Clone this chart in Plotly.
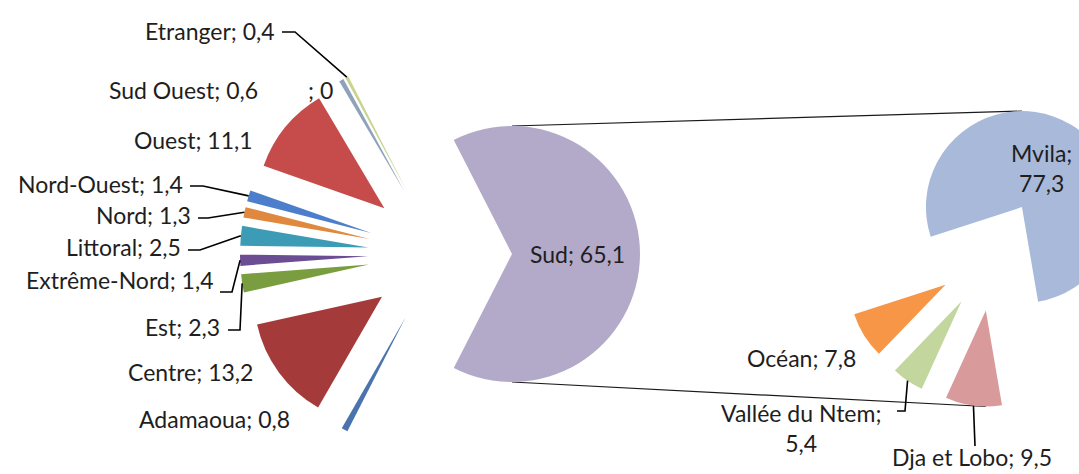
import math
import plotly.graph_objects as go

# Répartition par région d'origine (camembert principal)
regions = ["Sud", "Adamaoua", "Centre", "Est", "Extrême-Nord", "Littoral",
           "Nord", "Nord-Ouest", "Ouest", "", "Sud Ouest", "Etranger"]
region_values = [65.1, 0.8, 13.2, 2.3, 1.4, 2.5, 1.3, 1.4, 11.1, 0, 0.6, 0.4]
region_colors = ["#B3A9C9", "#4A74AE", "#A53A3B", "#7A9E3F", "#6A4D93", "#3C9CB6",
                 "#E0893E", "#4D7ECB", "#C64C4B", "#FFFFFF", "#8EA2BC", "#C8D48E"]

# Détail du Sud par département (camembert secondaire)
departements = ["Mvila", "Dja et Lobo", "Vallée du Ntem", "Océan"]
dept_values = [77.3, 9.5, 5.4, 7.8]
dept_colors = ["#A8B9DA", "#D99A9C", "#C3D69E", "#F79646"]

W, H = 1145, 474
FONT = "Lato"
FSIZE = 23
INK = "#1E1E1E"

# pie placement in pixels: centre, radius, explosion
MAIN = dict(cx=440.0, cy=254.0, r=128.0, pull=0.5625)
SUB = dict(cx=993.0, cy=255.0, r=96.0, pull=0.583)


def domain_of(p):
    half = p["r"] * (1 + p["pull"])
    return dict(x=[max(0.0, (p["cx"] - half) / W), min(1.0, (p["cx"] + half) / W)],
                y=[max(0.0, 1 - (p["cy"] + half) / H), min(1.0, 1 - (p["cy"] - half) / H)])


def slice_angles(values, rotation):
    total = sum(values)
    out, a = [], rotation
    for v in values:
        span = 360.0 * v / total
        out.append((a, a + span / 2, a + span))
        a += span
    return out


def polar(p, ang, dist, base=None):
    t = math.radians(ang)
    bx, by = base if base else (p["cx"], p["cy"])
    return bx + dist * math.sin(t), by - dist * math.cos(t)


def fmt(v):
    return f"{v:g}".replace(".", ",")


def px(x, y):
    return x / W, 1 - y / H


# first slice (Sud / Mvila) is centred on the chosen direction
main_rot = 90 - 180 * region_values[0] / sum(region_values)
sub_rot = 31.15 - 180 * dept_values[0] / sum(dept_values)
main_ang = slice_angles(region_values, main_rot)
sub_ang = slice_angles(dept_values, sub_rot)

fig = go.Figure()
fig.add_trace(go.Pie(
    labels=[r if r else "(sans région)" for r in regions], values=region_values,
    marker=dict(colors=region_colors, line=dict(width=0)),
    sort=False, direction="clockwise", rotation=main_rot,
    pull=[MAIN["pull"]] * len(regions), textinfo="none", hoverinfo="label+value",
    domain=domain_of(MAIN), showlegend=False))
fig.add_trace(go.Pie(
    labels=departements, values=dept_values,
    marker=dict(colors=dept_colors, line=dict(width=0)),
    sort=False, direction="clockwise", rotation=sub_rot,
    pull=[SUB["pull"]] * len(departements), textinfo="none", hoverinfo="label+value",
    domain=domain_of(SUB), showlegend=False))

# label anchors (px) and optional leader start/elbow (px)
main_labels = {
    "Sud": (577, 254, "center", None),
    "Adamaoua": (292, 419, "right", None),
    "Centre": (255, 372, "right", None),
    "Est": (222, 327, "right", [(228, 330), (240, 330)]),
    "Extrême-Nord": (215, 280, "right", [(220, 292), (232, 292)]),
    "Littoral": (183, 247, "right", [(188, 250), (200, 250)]),
    "Nord": (193, 215, "right", [(198, 218), (208, 218)]),
    "Nord-Ouest": (185, 184, "right", [(190, 186), (203, 186)]),
    "Ouest": (255, 140, "right", None),
    "": (306, 90, "left", None),
    "Sud Ouest": (260, 90, "right", None),
    "Etranger": (277, 31, "right", [(282, 32), (295, 32)]),
}
sub_labels = {
    "Mvila": (1041, 168, "center", None, True),
    "Dja et Lobo": (890, 457, "left", [(975, 446)], False),
    "Vallée du Ntem": (801, 428, "center", [(897, 411), (905, 411)], True),
    "Océan": (858, 358, "right", None, False),
}

annotations, shapes = [], []


def leader(points, p, mid):
    tip = polar(p, mid, p["r"] * (1 + p["pull"]))
    pts = list(points) + [tip]
    path = "M " + " L ".join(f"{px(x, y)[0]:.5f},{px(x, y)[1]:.5f}" for x, y in pts)
    shapes.append(dict(type="path", xref="paper", yref="paper", path=path,
                       line=dict(color="#000000", width=1.6)))


for name, val, (a0, mid, a1) in zip(regions, region_values, main_ang):
    x, y, anchor, lead = main_labels[name]
    ax, ay = px(x, y)
    annotations.append(dict(text=f"{name}; {fmt(val)}", x=ax, y=ay, xref="paper", yref="paper",
                            xanchor=anchor, yanchor="middle", showarrow=False,
                            font=dict(family=FONT, size=FSIZE, color=INK)))
    if lead:
        leader(lead, MAIN, mid)

for name, val, (a0, mid, a1) in zip(departements, dept_values, sub_ang):
    x, y, anchor, lead, two_lines = sub_labels[name]
    ax, ay = px(x, y)
    sep = "<br>" if two_lines else " "
    annotations.append(dict(text=f"{name};{sep}{fmt(val)}", x=ax, y=ay, xref="paper", yref="paper",
                            xanchor=anchor, yanchor="middle", showarrow=False, align="center",
                            font=dict(family=FONT, size=FSIZE, color=INK)))
    if lead:
        leader(lead, SUB, mid)

# connector lines between the Sud slice and the secondary pie
sud_vertex = polar(MAIN, main_ang[0][1], MAIN["r"] * MAIN["pull"])
mvila_vertex = polar(SUB, sub_ang[0][1], SUB["r"] * SUB["pull"])
dja_vertex = polar(SUB, sub_ang[1][1], SUB["r"] * SUB["pull"])
for (x0, y0), (x1, y1) in [((sud_vertex[0], sud_vertex[1] - MAIN["r"]), (mvila_vertex[0], mvila_vertex[1] - SUB["r"])),
                           ((sud_vertex[0], sud_vertex[1] + MAIN["r"]), (dja_vertex[0], dja_vertex[1] + SUB["r"]))]:
    p0, p1 = px(x0, y0), px(x1, y1)
    shapes.append(dict(type="line", xref="paper", yref="paper", x0=p0[0], y0=p0[1], x1=p1[0], y1=p1[1],
                       line=dict(color="#1A1A1A", width=1.2), layer="below"))

fig.update_layout(
    width=W, height=H, margin=dict(l=0, r=0, t=0, b=0),
    paper_bgcolor="white", plot_bgcolor="white",
    annotations=annotations, shapes=shapes, showlegend=False,
)

fig.write_html("out.html")
